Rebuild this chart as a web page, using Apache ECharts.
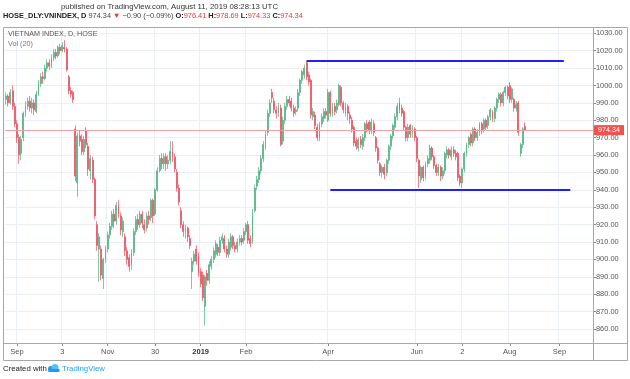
<!DOCTYPE html>
<html><head><meta charset="utf-8">
<script src="https://cdn.jsdelivr.net/npm/echarts@6/dist/echarts.min.js"></script>
<style>html,body{margin:0;padding:0;background:#fff}#c{width:630px;height:379px}</style>
</head><body><div id="c"></div>
<script>
// ---- data ----
const opens = [992,994,990,997,988,978,970,961,970,984,988,991,987,990,985,995,1001,1005,1004,1010,1013,1011,1016,1019,1017,1022,1020,1022,1021,1005,997,996,975,944,971,969,962,974,965,951,957,946,920,906,906,889,900,906,914,919,926,922,931,925,916,913,905,901,897,904,916,923,920,926,920,918,925,924,934,926,940,951,958,955,959,955,957,962,959,950,941,928,920,916,918,912,893,899,906,902,893,891,873,892,888,896,900,903,907,904,911,912,906,903,907,913,908,906,910,912,911,916,920,912,910,928,942,946,951,958,965,973,984,996,991,986,984,987,968,980,988,992,991,987,985,987,996,1003,1006,1013,1006,1003,982,983,976,970,978,981,985,980,996,984,988,986,989,999,990,984,988,983,980,976,968,964,969,965,970,978,979,974,978,970,964,955,950,953,950,957,965,971,976,982,990,987,985,976,970,977,973,975,970,957,946,953,948,955,957,964,959,954,950,953,948,951,960,963,959,963,961,961,948,944,952,961,966,972,967,975,970,973,978,975,980,977,982,985,981,987,992,995,990,996,999,1000,992,992,987,990,961,966,976.41];
const closes = [994,990,996,988,978,970,960,969,984,988,991,987,990,986,995,1001,1005,1004,1010,1013,1011,1016,1019,1017,1022,1020,1023,1021,1009,997,995,992,948,971,968,962,969,966,952,958,946,925,908,913,891,900,906,914,919,926,922,931,926,917,922,905,900,896,904,916,923,920,926,921,917,925,923,934,925,940,951,958,955,959,955,957,962,959,952,941,933,920,916,918,913,908,899,903,899,892,886,878,890,888,897,900,905,909,904,911,913,906,903,910,913,908,906,910,912,910,916,920,911,909,927,941,946,951,958,966,972,984,990,993,986,984,988,966,980,988,992,990,987,984,986,996,1003,1008,1010,1005,1002,983,985,977,970,978,982,985,983,996,984,988,985,990,1000,990,986,988,984,981,975,967,965,969,966,970,978,975,974,979,973,964,957,950,953,949,957,965,971,977,982,988,986,984,976,970,976,972,975,970,958,948,953,947,955,958,964,959,954,950,953,948,951,961,963,960,963,961,959,947,944,952,961,966,970,967,975,970,973,978,974,980,976,982,986,981,987,992,995,990,996,999,994,992,998,987,989,973,966,975,974.34];
const lows = [989,988,989,986,976,967,955,957,968,982,986,985,984,983,984,994,999,1001,1003,1008,1009,1010,1014,1015,1016,1018,1019,1019,1008,995,993,990,945,936,965,960,960,964,948,946,944,923,905,887,888,883,898,904,912,917,918,920,924,914,913,902,897,893,894,902,914,917,918,918,915,916,920,922,921,925,939,950,952,952,951,952,955,956,950,939,931,918,913,912,910,906,883,897,897,890,884,876,862,885,886,894,898,901,902,902,909,904,901,901,905,906,904,904,908,908,909,914,909,907,909,927,940,944,949,956,963,971,982,990,984,981,982,965,966,978,986,988,985,982,983,985,994,1001,1004,1003,1000,981,980,975,968,968,976,979,981,979,982,982,983,984,988,988,984,982,980,978,973,965,963,962,964,963,968,973,972,972,971,962,955,948,947,946,948,955,963,969,974,980,984,982,974,968,968,970,970,968,956,941,944,945,946,953,955,957,952,948,948,945,946,949,958,958,957,959,957,945,942,941,950,959,964,965,965,968,968,971,972,973,974,975,980,979,979,985,990,988,988,994,992,990,990,985,985,971,959,964,974.33];
const highs = [996,995,998,1000,990,980,972,971,985,991,993,994,993,992,997,1003,1007,1008,1012,1015,1015,1018,1021,1021,1023,1024,1025,1026,1022,1006,999,997,977,973,974,972,971,976,967,960,959,947,922,915,908,901,908,916,921,928,929,933,934,927,924,915,907,903,906,918,925,926,928,928,923,927,928,935,935,941,953,960,961,961,961,960,968,968,961,952,943,930,922,920,919,914,901,905,908,904,895,893,891,894,899,902,907,911,909,913,915,914,908,912,915,914,910,912,914,914,918,921,922,914,929,943,948,953,960,968,974,986,992,998,993,988,990,989,982,990,994,994,993,989,988,998,1004,1009,1012,1014,1008,1004,987,985,978,979,984,987,987,998,997,990,990,992,1001,1000,991,990,989,985,982,977,970,970,971,972,979,980,980,981,980,971,965,956,954,955,958,966,972,978,984,990,993,989,986,977,978,978,977,976,971,958,954,954,956,960,966,965,960,955,955,954,953,962,965,964,965,965,963,962,949,953,962,967,971,973,976,976,975,979,979,981,981,983,987,986,988,993,996,996,997,1000,1000,1002,999,993,991,991,967,976,978.69];
const lastPrice = 974.34;
const resistance = {value: 1014.2, from: 139, to: 258};
const support = {value: 940, from: 150, to: 261};
const dayCount = 272;               // trading-day slots incl. empty future space
const tickIdx = [5, 26, 47, 69, 90, 111, 149, 190, 211, 233, 256];
const tickLabels = ['Sep', '3', 'Nov', '30', '2019', 'Feb', 'Apr', 'Jun', '2', 'Aug', 'Sep'];
const yMin = 860, yMax = 1030, yStep = 10;

// ---- build ----
const categories = [];
for (let i = 0; i < dayCount; i++) categories.push(String(i));
const candles = opens.map((o, i) => [o, closes[i], lows[i], highs[i]]);
const isTick = (idx) => tickIdx.indexOf(idx) >= 0;

const UP = '#4caf7d', DOWN = '#e84a5a';
const FONT = '"Liberation Sans", Arial, sans-serif';
const chart = echarts.init(document.getElementById('c'), null, {renderer: 'canvas'});
const T = (text, left, top, style) => ({text, left, top, padding: 0, textStyle: Object.assign({fontFamily: FONT, fontWeight: 'normal'}, style)});
chart.setOption({
  animation: false,
  backgroundColor: '#ffffff',
  textStyle: {fontFamily: FONT},
  title: [
    T('published on TradingView.com, August 11, 2019 08:28:13 UTC', 61, 3, {fontSize: 7.8, color: '#333'}),
    T('{b|HOSE_DLY:VNINDEX, D} {n|974.34} {r|▼} {n|−0.90 (−0.09%)} {b|O:}{r|976.41} {b|H:}{r|978.69} {b|L:}{r|974.33} {b|C:}{r|974.34}', 3, 12,
      {fontSize: 7.4, rich: {b: {fontWeight: 'bold', color: '#222', fontSize: 7.4, fontFamily: FONT},
              n: {color: '#444', fontSize: 7.4, fontFamily: FONT},
              r: {color: '#e53935', fontSize: 7.4, fontFamily: FONT}}}),
    T('VIETNAM INDEX, D, HOSE', 8, 31, {fontSize: 7.2, color: '#555'}),
    T('Vol (20)', 8, 41, {fontSize: 7.2, color: '#777'}),
    T('Created with', 3, 365, {fontSize: 7.8, color: '#222'}),
    T('TradingView', 62, 365, {fontSize: 7.8, color: '#29a0f0'})
  ],
  grid: [
    {left: 5, top: 33.3, width: 588, height: 295.7},
    {left: 5, top: 27, width: 588, height: 316}
  ],
  xAxis: [
    {type: 'category', gridIndex: 0, data: categories, boundaryGap: true,
     axisLine: {show: false}, axisTick: {show: false}, axisLabel: {show: false}, splitLine: {show: false}},
    {type: 'category', gridIndex: 1, data: categories, boundaryGap: true,
     axisLine: {show: false},
     axisTick: {show: true, alignWithLabel: true, interval: (i) => isTick(i), length: 3, lineStyle: {color: '#888'}},
     axisLabel: {show: true, interval: (i) => isTick(i), margin: 5, fontSize: 7.5, color: '#555', fontFamily: FONT,
       formatter: (v, i) => { const k = tickIdx.indexOf(i); if (k < 0) return ''; return tickLabels[k] === '2019' ? '{y|2019}' : tickLabels[k]; },
       rich: {y: {fontWeight: 'bold', color: '#333', fontSize: 7.5, fontFamily: FONT}}},
     splitLine: {show: true, interval: (i) => isTick(i), lineStyle: {color: '#eaeff5', width: 1}}}
  ],
  yAxis: [
    {type: 'value', gridIndex: 0, position: 'right', min: yMin, max: yMax, interval: yStep,
     axisLine: {show: false},
     axisTick: {show: true, length: 3, lineStyle: {color: '#888'}},
     axisLabel: {margin: 3, fontSize: 7.4, color: '#555', fontFamily: FONT, formatter: (v) => v.toFixed(2)},
     splitLine: {show: true, lineStyle: {color: '#eaeff5', width: 1}}},
    {type: 'value', gridIndex: 1, min: 0, max: 1, show: false}
  ],
  series: [{
    type: 'candlestick', xAxisIndex: 0, yAxisIndex: 0, data: candles,
    barWidth: 1.4,
    itemStyle: {color: UP, color0: DOWN, borderColor: UP, borderColor0: DOWN, borderWidth: 0.7},
    markLine: {
      silent: true, symbol: ['none', 'none'], animation: false,
      data: [
        {yAxis: lastPrice, lineStyle: {color: '#f4a0a0', width: 1, type: 'solid'},
         label: {show: true, position: 'end', distance: 1, formatter: lastPrice.toFixed(2),
           backgroundColor: '#ef5350', color: '#fff', fontSize: 7.2, padding: [2, 4, 1, 4], fontFamily: FONT}},
        [{coord: [resistance.from, resistance.value]}, {coord: [resistance.to, resistance.value]}],
        [{coord: [support.from, support.value]}, {coord: [support.to, support.value]}]
      ].map((d, k) => k === 0 ? d : [Object.assign({lineStyle: {color: '#1f1fff', width: 2, type: 'solid'}, label: {show: false}}, d[0]), d[1]])
    }
  }],
  graphic: [
    {type: 'rect', shape: {x: 3.5, y: 27.5, width: 624, height: 333}, style: {fill: 'none', stroke: '#a8a8a8', lineWidth: 1}, z: 100},
    {type: 'line', shape: {x1: 593.5, y1: 27, x2: 593.5, y2: 361}, style: {stroke: '#a8a8a8', lineWidth: 1}, z: 100},
    {type: 'line', shape: {x1: 3, y1: 343.5, x2: 628, y2: 343.5}, style: {stroke: '#a8a8a8', lineWidth: 1}, z: 100},
    {type: 'group', left: 48, top: 364, children: [
      {type: 'circle', shape: {cx: 4, cy: 6, r: 3}, style: {fill: '#2196f3'}},
      {type: 'circle', shape: {cx: 8, cy: 4.5, r: 3.5}, style: {fill: '#4fc3f7'}},
      {type: 'rect', shape: {x: 1.5, y: 6, width: 11, height: 3}, style: {fill: '#2196f3'}}
    ]}
  ]
});
</script></body></html>
